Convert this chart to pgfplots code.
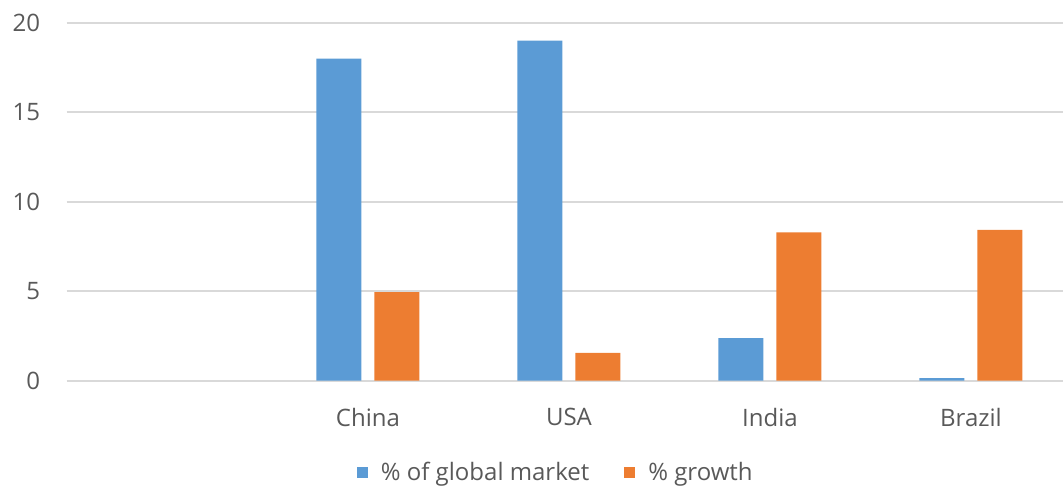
\documentclass[border=0pt]{standalone}
\usepackage{fontspec}
\setmainfont{Open Sans}
\usepackage{pgfplots}
\pgfplotsset{compat=1.18}
\definecolor{cblue}{HTML}{5B9BD5}
\definecolor{corange}{HTML}{ED7D31}
\definecolor{cgrid}{HTML}{D9D9D9}
\definecolor{ctext}{HTML}{595959}
\begin{document}
\begin{tikzpicture}
\useasboundingbox (0,0) rectangle (531.5pt,247pt);
\begin{axis}[
  at={(33.25pt,56.65pt)}, anchor=south west,
  scale only axis, width=498.25pt, height=179pt,
  xmin=-0.5, xmax=4.458, ymin=0, ymax=20,
  ytick={0,5,10,15,20},
  xtick={1,2,3,4}, xticklabels={China,USA,India,Brazil},
  axis line style={draw=none}, major tick length=0pt,
  ymajorgrids, grid style={cgrid, line width=0.8pt},
  tick label style={text=ctext, font=\fontsize{12}{14}\selectfont},
  yticklabel style={anchor=east, inner sep=0pt, xshift=-13pt},
  xticklabel style={anchor=north, inner sep=0pt, yshift=-13.5pt},
  /pgf/number format/assume math mode=true,
  legend style={at={(0.492,-0.257)}, anchor=center, draw=none, fill=none,
    legend columns=2, font=\fontsize{12}{14}\selectfont, text=ctext,
    /tikz/every even column/.append style={column sep=15.5pt}},
  legend cell align=left,
  legend image code/.code={\fill[#1] (0pt,-2.75pt) rectangle (5.5pt,2.75pt); \path (10pt,0pt);},
]
\addplot[ybar, bar width=22.5pt, bar shift=-14.5pt, fill=cblue, draw=none]
  coordinates {(1,18) (2,19) (3,2.38) (4,0.15)};
\addlegendentry{\% of global market}
\addplot[ybar, bar width=22.5pt, bar shift=14.5pt, fill=corange, draw=none]
  coordinates {(1,4.95) (2,1.55) (3,8.28) (4,8.43)};
\addlegendentry{\% growth}
\end{axis}
\end{tikzpicture}
\end{document}
